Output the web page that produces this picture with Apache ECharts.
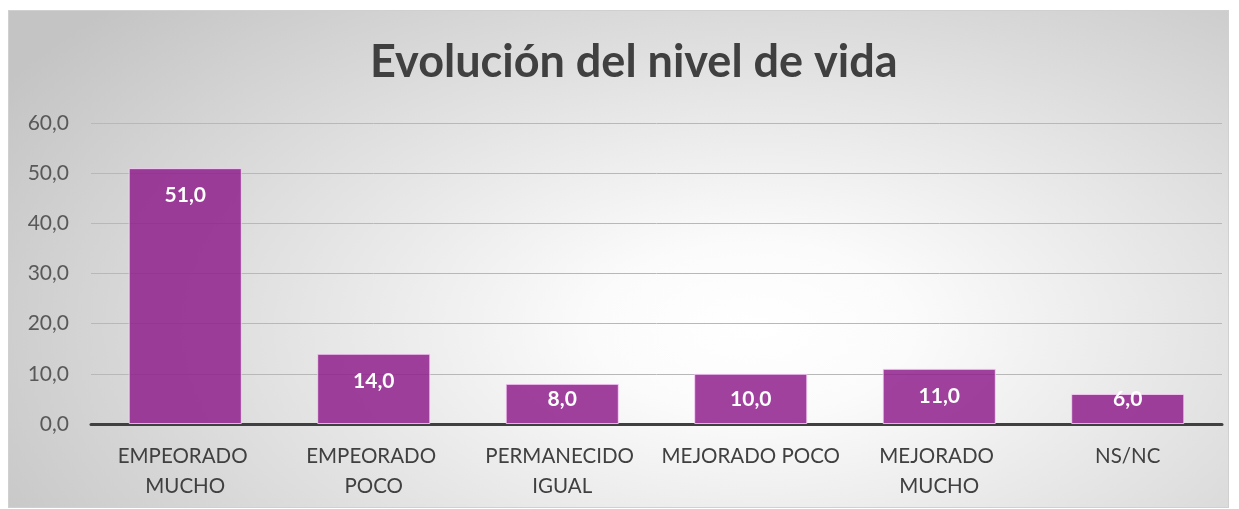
<!DOCTYPE html>
<html><head><meta charset="utf-8">
<script src="https://cdn.jsdelivr.net/npm/echarts@6/dist/echarts.min.js"></script>
<style>
html,body{margin:0;padding:0;background:#fff;}
#bg{position:absolute;left:8px;top:10px;width:1219px;height:496px;border:1px solid #d0d0d0;
background:radial-gradient(ellipse 72% 95% at 61% 64%, #ffffff 0%, #fbfbfb 18%, #c4c4c4 100%);}
#chart{position:absolute;left:0;top:0;width:1239px;height:509px;}
</style></head>
<body>
<div id="bg"></div>
<div id="chart"></div>
<script>
const titleText = 'Evolución del nivel de vida';
const categories = ['EMPEORADO MUCHO', 'EMPEORADO POCO', 'PERMANECIDO IGUAL', 'MEJORADO POCO', 'MEJORADO MUCHO', 'NS/NC'];
const values = [51.0, 14.0, 8.0, 10.0, 11.0, 6.0];
const yTicks = {min: 0, max: 60, interval: 10};

const fmt = v => Number(v).toFixed(1).replace('.', ',');
const pxPerUnit = 301 / 60;
const chart = echarts.init(document.getElementById('chart'), null, {renderer: 'canvas'});
const data = values.map(v => {
  const h = v * pxPerUnit;
  const centerOff = Math.min(27, h - 25);
  return {value: v, label: {distance: centerOff - 10}};
});
chart.setOption({
  backgroundColor: 'transparent',
  textStyle: {fontFamily: 'Lato'},
  title: {
    text: titleText, left: 365, top: 35,
    textStyle: {fontSize: 45, fontWeight: 'bold', color: '#404040', fontFamily: 'Lato'}
  },
  grid: {left: 91, right: 17, top: 123, bottom: 85, containLabel: false},
  xAxis: {
    type: 'category', data: categories,
    axisLine: {lineStyle: {color: '#404040', width: 3}},
    axisTick: {show: false},
    axisLabel: {color: '#404040', fontSize: 20.5, lineHeight: 30, margin: 17, width: 186, overflow: 'break', interval: 0}
  },
  yAxis: {
    type: 'value', min: yTicks.min, max: yTicks.max, interval: yTicks.interval,
    axisLine: {show: false}, axisTick: {show: false},
    axisLabel: {color: '#595959', fontSize: 21, margin: 22, formatter: fmt},
    splitLine: {lineStyle: {color: '#b8b8b8', width: 1}}
  },
  series: [{
    type: 'bar', data: data, barCategoryGap: '40%',
    itemStyle: {color: 'rgba(142,30,138,0.84)', borderColor: 'rgba(255,215,255,0.8)', borderWidth: 1},
    label: {show: true, position: 'insideTop', color: '#ffffff', fontSize: 21, fontWeight: 'bold', fontFamily: 'Lato', formatter: p => fmt(p.value)},
    animation: false
  }],
  animation: false
});
</script>
</body></html>
